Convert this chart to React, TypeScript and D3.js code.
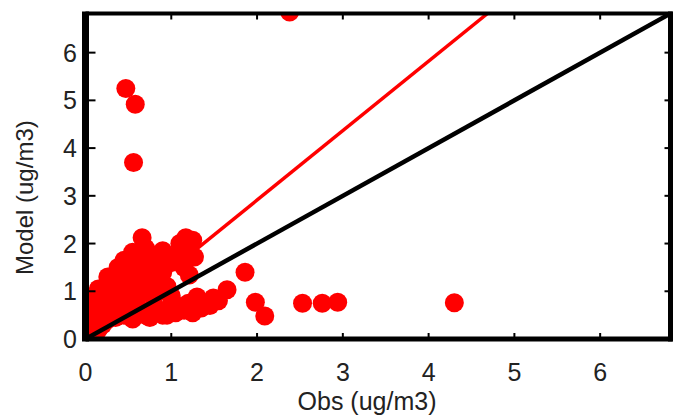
import React from "react";
import * as d3 from "d3";

const obs: number[] = [
  // outliers
  2.38, 0.47, 0.58, 0.56, 2.53, 2.76, 2.94, 4.30, 1.86, 1.98, 2.09, 1.65, 1.49, 1.34,
  // near origin
  0.02, 0.03, 0.06, 0.1, 0.13, 0.05, 0.08, 0.12, 0.15, 0.18, 0.1, 0.15,
  // upper group
  0.2, 0.25, 0.26, 0.3, 0.35, 0.38, 0.4, 0.45, 0.48, 0.55, 0.55, 0.6, 0.62, 0.66, 0.7, 0.72,
  0.75, 0.8, 0.85, 0.9, 0.95, 1.0, 1.05, 1.1, 1.17, 1.25, 1.2, 1.27, 1.21, 1.15, 0.5, 0.65,
  0.9, 0.78, 0.42, 0.3, 0.2, 0.35, 0.5, 0.65, 0.75, 0.85, 0.95,
  // lower band
  0.35, 0.45, 0.55, 0.65, 0.75, 0.85, 0.95, 1.05, 1.15, 1.25, 1.35, 1.45, 1.55, 1.2,
  1.0, 0.8, 0.6, 0.4, 0.25, 0.2, 0.15, 1.1, 0.9, 0.7, 0.3, 0.45, 0.6, 0.8, 1.0, 1.3,
];
const model: number[] = [
  6.85, 5.25, 4.92, 3.7, 0.75, 0.75, 0.77, 0.76, 1.4, 0.77, 0.48, 1.03, 0.86, 0.75,
  0.05, 0.15, 0.4, 0.7, 0.95, 0.25, 0.55, 0.85, 1.05, 0.75, 0.2, 0.5,
  0.5, 1.0, 1.3, 0.8, 1.1, 1.5, 1.3, 1.65, 1.6, 1.82, 1.4, 1.15, 1.6, 2.12, 1.9, 1.5,
  1.3, 1.75, 1.55, 1.4, 1.7, 1.6, 1.75, 2.0, 2.12, 2.07, 1.8, 1.72, 1.34, 1.5, 1.2, 1.8,
  1.85, 1.2, 0.95, 1.15, 0.9, 0.95, 1.0, 1.3, 1.1, 1.2, 1.1,
  0.45, 0.5, 0.42, 0.55, 0.45, 0.6, 0.5, 0.55, 0.6, 0.55, 0.65, 0.7, 0.8, 0.75,
  0.72, 0.7, 0.65, 0.6, 0.4, 0.3, 0.2, 0.68, 0.5, 0.5, 0.65, 0.85, 0.85, 0.9, 0.9, 0.88,
];
const xTicks: number[] = [0, 1, 2, 3, 4, 5, 6];
const yTicks: number[] = [0, 1, 2, 3, 4, 5, 6];
const axisMax = 6.82;
const fitSlope = 1.455;

export default function App() {
  const W = 674, H = 418;
  const x = d3.scaleLinear().domain([0, axisMax]).range([85.5, 670.5]);
  const y = d3.scaleLinear().domain([0, axisMax]).range([339, 13.5]);
  const [x0, x1] = x.range();
  const [y0, y1] = y.range();
  const line = d3.line<[number, number]>().x((d) => x(d[0])).y((d) => y(d[1]));
  const pts = obs.map((o, i) => [o, model[i]] as [number, number]);
  const font = "'Liberation Sans', Arial, Helvetica, sans-serif";
  return (
    <svg width={W} height={H} style={{ position: "absolute", left: 0, top: 0, background: "#fff" }}>
      <defs>
        <clipPath id="plot">
          <rect x={x0} y={y1} width={x1 - x0} height={y0 - y1} />
        </clipPath>
      </defs>
      <g clipPath="url(#plot)">
        {pts.map((p, i) => (
          <circle key={i} cx={x(p[0])} cy={y(p[1])} r={9.5} fill="#ff0000" />
        ))}
        <path d={line([[0, 0], [axisMax / fitSlope, axisMax]]) || ""} stroke="#ff0000" strokeWidth={3.5} fill="none" />
        <path d={line([[0, 0], [axisMax, axisMax]]) || ""} stroke="#000" strokeWidth={4.5} fill="none" />
      </g>
      {/* ticks */}
      {xTicks.map((t) => (
        <g key={"xt" + t}>
          <line x1={x(t)} x2={x(t)} y1={y0} y2={y0 - 6} stroke="#000" strokeWidth={2} />
          <line x1={x(t)} x2={x(t)} y1={y1} y2={y1 + 6} stroke="#000" strokeWidth={2} />
          <text x={x(t)} y={381} textAnchor="middle" fontFamily={font} fontSize={25} fill="#222">{t}</text>
        </g>
      ))}
      {yTicks.map((t) => (
        <g key={"yt" + t}>
          <line x1={x0} x2={x0 + 10} y1={y(t)} y2={y(t)} stroke="#000" strokeWidth={2} />
          <line x1={x1} x2={x1 - 6} y1={y(t)} y2={y(t)} stroke="#000" strokeWidth={2} />
          <text x={77} y={y(t) + 9} textAnchor="end" fontFamily={font} fontSize={25} fill="#222">{t}</text>
        </g>
      ))}
      {/* box */}
      <line x1={x0} x2={x1 + 2} y1={y1} y2={y1} stroke="#000" strokeWidth={4} />
      <line x1={x0} x2={x1 + 2} y1={y0} y2={y0} stroke="#000" strokeWidth={5} />
      <line x1={x0} x2={x0} y1={y1 - 2} y2={y0 + 2.5} stroke="#000" strokeWidth={7} />
      <line x1={x1} x2={x1} y1={y1 - 2} y2={y0 + 2.5} stroke="#000" strokeWidth={5} />
      <text x={367} y={410} textAnchor="middle" fontFamily={font} fontSize={25} fill="#222">Obs (ug/m3)</text>
      <text transform={`translate(33,275) rotate(-90)`} textAnchor="start" fontFamily={font} fontSize={24} fill="#222">Model (ug/m3)</text>
    </svg>
  );
}
